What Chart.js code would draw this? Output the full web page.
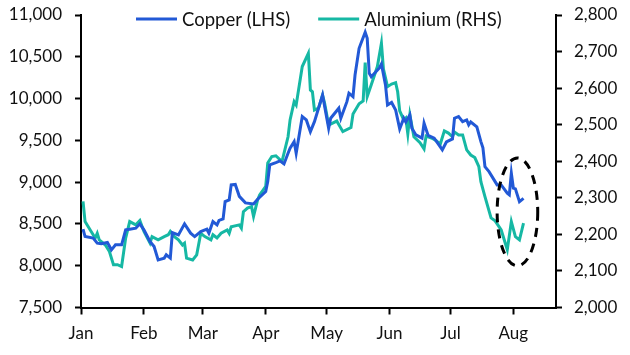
<!DOCTYPE html>
<html>
<head>
<meta charset="utf-8">
<script src="https://cdn.jsdelivr.net/npm/chart.js@4/dist/chart.umd.min.js"></script>
<style>
  html, body { margin: 0; padding: 0; background: #fff; }
  canvas { display: block; }
</style>
</head>
<body>
<canvas id="c" width="630" height="355"></canvas>
<script>
// ---- Data (2024, month-day) ----
const cuDates = ['01-02','01-03','01-07','01-09','01-11','01-14','01-16','01-18','01-21','01-23','01-25','01-28','01-30',
  '02-01','02-04','02-06','02-08','02-11','02-12','02-14','02-15','02-18','02-21','02-24','02-26','02-29',
  '03-03','03-04','03-06','03-08','03-09','03-11','03-12','03-14','03-15','03-17','03-19','03-22','03-26','03-28',
  '04-01','04-02','04-03','04-06','04-08','04-10','04-12','04-13','04-15','04-16','04-19','04-21','04-23','04-25','04-29',
  '05-02','05-03','05-07','05-08','05-11','05-12','05-14','05-15','05-17','05-20','05-21','05-22','05-23','05-27','05-28','05-30','05-31',
  '06-02','06-04','06-06','06-08','06-09','06-11','06-12','06-14','06-17','06-18','06-20','06-23','06-26','06-27','06-29',
  '07-02','07-03','07-05','07-07','07-09','07-10','07-11','07-14','07-16','07-17','07-18','07-20','07-24','07-26','07-29','07-30','07-31',
  '08-01','08-02','08-04','08-06'];
const copper = [8437,8349,8330,8270,8262,8277,8190,8250,8250,8429,8437,8449,8501,
  8429,8289,8229,8070,8091,8130,8091,8397,8369,8501,8390,8349,8409,
  8437,8390,8528,8489,8543,8561,8767,8788,8967,8973,8830,8752,8740,8796,
  8887,9007,9206,9234,9254,9218,9346,9406,9485,9346,9784,9744,9604,9724,10043,
  9645,9765,9884,9765,9963,10064,10023,10282,10602,10793,10721,10303,10262,10366,10414,10163,9924,
  9954,9864,9637,9765,9720,9804,9645,9565,9526,9705,9559,9526,9421,9386,9481,
  9517,9765,9784,9724,9744,9685,9720,9661,9485,9410,9186,9126,8967,8967,8868,8848,9107,
  8928,8919,8767,8806];

const alDates = ['01-02','01-03','01-06','01-08','01-09','01-10','01-13','01-15','01-17','01-19','01-21','01-23','01-25','01-28','01-30',
  '02-01','02-04','02-05','02-08','02-11','02-13','02-14','02-16','02-18','02-20','02-21','02-22','02-25','02-27','02-29',
  '03-02','03-05','03-06','03-08','03-10','03-13','03-14','03-15','03-19','03-20','03-21','03-23','03-25','03-26','03-28','03-29',
  '04-01','04-02','04-04','04-06','04-09','04-12','04-13','04-15','04-16','04-19','04-22','04-23','04-24','04-25','04-27','04-29','04-30',
  '05-02','05-06','05-09','05-13','05-14','05-17','05-19','05-20','05-21','05-23','05-26','05-28','05-29','05-31',
  '06-02','06-04','06-05','06-06','06-08','06-09','06-10','06-11','06-13','06-16','06-18','06-19','06-22','06-24','06-26','06-28','06-30',
  '07-02','07-03','07-05','07-07','07-09','07-11','07-13','07-15','07-16','07-18','07-21','07-23','07-26','07-29','07-31',
  '08-02','08-04','08-06'];
const aluminium = [2290,2235,2208,2190,2203,2185,2171,2153,2117,2117,2112,2190,2235,2226,2238,
  2208,2176,2194,2185,2194,2199,2208,2194,2185,2171,2176,2135,2130,2144,2203,
  2194,2185,2199,2190,2203,2212,2203,2221,2226,2217,2262,2272,2276,2249,2294,2308,
  2331,2395,2413,2415,2399,2467,2513,2563,2554,2659,2695,2595,2590,2540,2545,2581,2559,
  2499,2510,2481,2492,2529,2557,2565,2670,2577,2609,2659,2723,2652,2604,
  2611,2615,2590,2538,2513,2518,2475,2527,2467,2451,2434,2469,2463,2456,2447,2483,2477,
  2467,2480,2472,2472,2431,2417,2410,2385,2344,2303,2245,2237,2212,2158,2235,
  2194,2185,2231];

const tickDates  = ['01-01','02-01','03-01','04-01','05-01','06-01','07-01','08-01'];
const tickLabels = ['Jan','Feb','Mar','Apr','May','Jun','Jul','Aug'];
const xEnd = '08-22';
const seriesNames = ['Copper (LHS)', 'Aluminium (RHS)'];
// highlighted region (dashed ellipse): centre date/value and half-extents
const focus = { date: '08-03', value: 8644, halfDays: 10, halfValue: 646 };

// ---- helpers ----
function doy(md) {
  const [m, d] = md.split('-').map(Number);
  return (Date.UTC(2024, m - 1, d) - Date.UTC(2024, 0, 1)) / 86400000;
}
const FONT = { family: 'Lato, "Open Sans", sans-serif', size: 17 };
const LEGEND_SIZE = 18.5;
const BLUE = '#2259d6';
const TEAL = '#16b8a4';

const legendAndEllipse = {
  id: 'legendAndEllipse',
  afterDatasetsDraw(chart) {
    const ctx = chart.ctx;
    const xs = chart.scales.x, yl = chart.scales.yL;
    // dashed ellipse
    const cx = xs.getPixelForValue(doy(focus.date));
    const cy = yl.getPixelForValue(focus.value);
    const rx = Math.abs(xs.getPixelForValue(doy(focus.date) + focus.halfDays) - cx);
    const ry = Math.abs(yl.getPixelForValue(focus.value + focus.halfValue) - cy);
    ctx.save();
    ctx.beginPath();
    ctx.setLineDash([9, 7]);
    ctx.lineWidth = 3;
    ctx.strokeStyle = '#000';
    ctx.ellipse(cx, cy, rx, ry, 0, 0, Math.PI * 2);
    ctx.stroke();
    ctx.restore();

    // legend
    ctx.save();
    ctx.font = LEGEND_SIZE + 'px ' + FONT.family;
    ctx.textBaseline = 'middle';
    let x = chart.chartArea.left + 55;
    const y = chart.chartArea.top + 4;
    chart.data.datasets.forEach((ds, i) => {
      ctx.beginPath();
      ctx.lineWidth = 3;
      ctx.strokeStyle = ds.borderColor;
      ctx.moveTo(x, y);
      ctx.lineTo(x + 41, y);
      ctx.stroke();
      ctx.fillStyle = '#111';
      ctx.fillText(ds.label, x + 46, y + 1);
      x += 46 + ctx.measureText(ds.label).width + 28;
    });
    ctx.restore();
  }
};

const axisCommon = {
  border: { display: true, color: '#000', width: 2 },
  grid: { drawOnChartArea: false, drawTicks: true, tickLength: 6, tickWidth: 2, tickColor: '#000' },
};
function noPad(s) { s.paddingTop = 0; s.paddingBottom = 0; s.paddingLeft = 0; s.paddingRight = 0; }

new Chart(document.getElementById('c'), {
  type: 'line',
  data: {
    datasets: [
      {
        label: seriesNames[0],
        data: cuDates.map((d, i) => ({ x: doy(d), y: copper[i] })),
        borderColor: BLUE, backgroundColor: BLUE,
        borderWidth: 3, pointRadius: 0, tension: 0, yAxisID: 'yL'
      },
      {
        label: seriesNames[1],
        data: alDates.map((d, i) => ({ x: doy(d), y: aluminium[i] })),
        borderColor: TEAL, backgroundColor: TEAL,
        borderWidth: 3, pointRadius: 0, tension: 0, yAxisID: 'yR'
      }
    ]
  },
  options: {
    responsive: false,
    animation: false,
    devicePixelRatio: 1,
    layout: { padding: { top: 15, left: 0, right: 0, bottom: 0 } },
    plugins: { legend: { display: false }, tooltip: { enabled: false } },
    scales: {
      x: {
        type: 'linear', position: 'bottom',
        min: 0, max: doy(xEnd),
        ...axisCommon,
        grid: { ...axisCommon.grid, tickLength: 7 },
        afterBuildTicks: (axis) => { axis.ticks = tickDates.map(d => ({ value: doy(d) })); },
        ticks: {
          autoSkip: false, maxRotation: 0, padding: 9,
          color: '#111', font: FONT,
          callback: (v, i) => tickLabels[i]
        },
        afterFit: (s) => { s.height = 47.5; noPad(s); }
      },
      yL: {
        type: 'linear', position: 'left',
        min: 7500, max: 11000,
        ...axisCommon,
        ticks: { stepSize: 500, padding: 13, color: '#111', font: FONT,
          callback: (v) => v.toLocaleString('en-US') },
        afterFit: (s) => { s.width = 81; noPad(s); }
      },
      yR: {
        type: 'linear', position: 'right',
        min: 2000, max: 2800,
        ...axisCommon,
        ticks: { stepSize: 100, padding: 12, color: '#111', font: FONT,
          callback: (v) => v.toLocaleString('en-US') },
        afterFit: (s) => { s.width = 74; noPad(s); }
      }
    }
  },
  plugins: [legendAndEllipse]
});
</script>
</body>
</html>
